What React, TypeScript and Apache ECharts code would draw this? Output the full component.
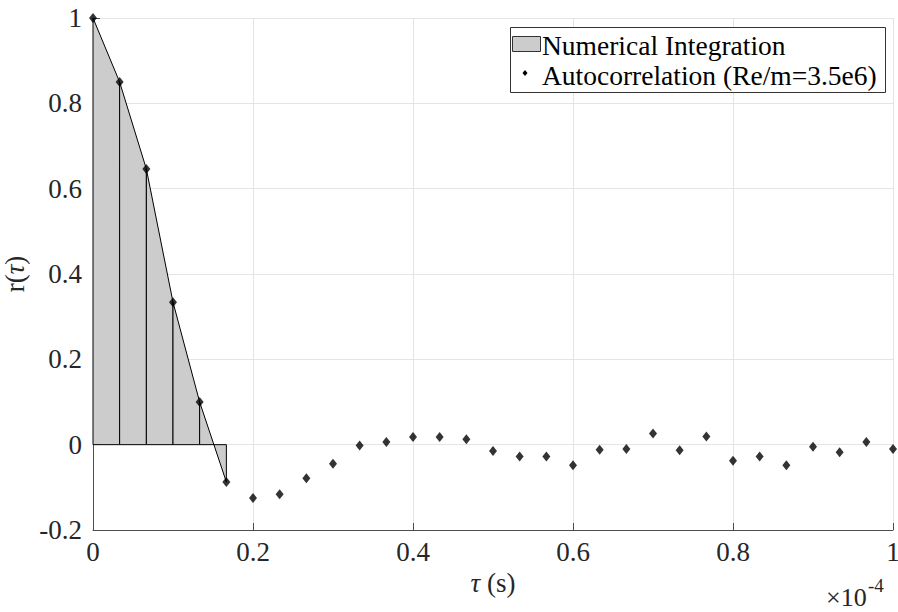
import React, { useEffect, useRef } from "react";
import * as echarts from "echarts";

// tau in units of 1e-4 s
const tau = [
  0, 0.0333, 0.0667, 0.1, 0.1333, 0.1667, 0.2, 0.2333, 0.2667, 0.3, 0.3333,
  0.3667, 0.4, 0.4333, 0.4667, 0.5, 0.5333, 0.5667, 0.6, 0.6333, 0.6667, 0.7,
  0.7333, 0.7667, 0.8, 0.8333, 0.8667, 0.9, 0.9333, 0.9667, 1,
];
const autocorr = [
  1, 0.85, 0.646, 0.334, 0.1, -0.0875, -0.125, -0.116, -0.079, -0.045, -0.002,
  0.006, 0.018, 0.018, 0.0125, -0.015, -0.028, -0.028, -0.048, -0.012, -0.01,
  0.026, -0.013, 0.019, -0.0375, -0.028, -0.048, -0.005, -0.018, 0.006, -0.01,
];
// number of samples used in the trapezoidal integration
const integrationSamples = 6;

const xTicks = [0, 0.2, 0.4, 0.6, 0.8, 1];
const yTicks = [-0.2, 0, 0.2, 0.4, 0.6, 0.8, 1];

const legendLabels = ["Numerical Integration", "Autocorrelation (Re/m=3.5e6)"];

const FONT = "'Liberation Serif', 'Times New Roman', serif";

export default function App() {
  const ref = useRef<HTMLDivElement>(null);

  useEffect(() => {
    if (!ref.current) return;
    const chart = echarts.init(ref.current, null, { renderer: "svg" });

    const trapezoids: number[][] = [];
    for (let i = 0; i < integrationSamples - 1; i++) {
      trapezoids.push([tau[i], autocorr[i], tau[i + 1], autocorr[i + 1]]);
    }
    const points = tau.map((t, i) => [t, autocorr[i]]);

    const axisColor = "#4d4d4d";
    const gridColor = "#e4e4e4";
    const textColor = "#262626";

    chart.setOption({
      animation: false,
      backgroundColor: "#ffffff",
      textStyle: { fontFamily: FONT },
      grid: { left: 93, right: 5, top: 18, bottom: 82, outerBoundsMode: "none", containLabel: false },
      xAxis: {
        type: "value",
        min: xTicks[0],
        max: xTicks[xTicks.length - 1],
        interval: 0.2,
        name: "{i|τ} (s)",
        nameLocation: "middle",
        nameGap: 34,
        nameTextStyle: {
          fontFamily: FONT,
          fontSize: 27,
          color: textColor,
          verticalAlign: "top",
          rich: { i: { fontFamily: FONT, fontSize: 27, fontStyle: "italic", color: textColor } },
        },
        axisLine: { show: true, onZero: false, lineStyle: { color: axisColor, width: 1 } },
        axisTick: { show: true, inside: true, length: 7, lineStyle: { color: axisColor } },
        axisLabel: {
          fontFamily: FONT,
          fontSize: 27,
          color: textColor,
          margin: 8,
          formatter: (v: number) => String(Math.round(v * 10) / 10),
        },
        splitLine: { show: true, lineStyle: { color: gridColor, width: 1 } },
      },
      yAxis: {
        type: "value",
        min: yTicks[0],
        max: yTicks[yTicks.length - 1],
        interval: 0.2,
        name: "r({i|τ})",
        nameLocation: "middle",
        nameGap: 58,
        nameRotate: 90,
        nameTextStyle: {
          fontFamily: FONT,
          fontSize: 27,
          color: textColor,
          rich: { i: { fontFamily: FONT, fontSize: 27, fontStyle: "italic", color: textColor } },
        },
        axisLine: { show: true, onZero: false, lineStyle: { color: axisColor, width: 1 } },
        axisTick: { show: true, inside: true, length: 7, lineStyle: { color: axisColor } },
        axisLabel: {
          fontFamily: FONT,
          fontSize: 27,
          color: textColor,
          margin: 11,
          formatter: (v: number) => String(Math.round(v * 10) / 10),
        },
        splitLine: { show: true, lineStyle: { color: gridColor, width: 1 } },
      },
      series: [
        {
          name: legendLabels[0],
          type: "custom",
          data: trapezoids,
          z: 2,
          renderItem: (params: any, api: any) => {
            const x0 = api.value(0);
            const y0 = api.value(1);
            const x1 = api.value(2);
            const y1 = api.value(3);
            const pts = [
              api.coord([x0, 0]),
              api.coord([x0, y0]),
              api.coord([x1, y1]),
              api.coord([x1, 0]),
            ];
            return {
              type: "polygon",
              shape: { points: pts },
              style: { fill: "#cccccc", stroke: "#000000", lineWidth: 1 },
            };
          },
        },
        {
          name: legendLabels[1],
          type: "scatter",
          data: points,
          symbol: "diamond",
          symbolSize: [8, 10],
          itemStyle: { color: "#000000" },
          z: 5,
        },
      ],
      graphic: [
        {
          type: "rect",
          shape: { x: 510.5, y: 27.5, width: 375, height: 65 },
          style: { fill: "#ffffff", stroke: "#333333", lineWidth: 1 },
          z: 100,
        },
        {
          type: "rect",
          shape: { x: 512.5, y: 36.5, width: 28, height: 15 },
          style: { fill: "#cccccc", stroke: "#333333", lineWidth: 1 },
          z: 101,
        },
        {
          type: "text",
          x: 542,
          y: 45,
          style: {
            text: legendLabels[0],
            font: `27.5px ${FONT}`,
            fill: "#000000",
            verticalAlign: "middle",
          },
          z: 101,
        },
        {
          type: "polygon",
          shape: { points: [[525, 70], [527.5, 73], [525, 76], [522.5, 73]] },
          style: { fill: "#000000" },
          z: 101,
        },
        {
          type: "text",
          x: 542,
          y: 75,
          style: {
            text: legendLabels[1],
            font: `27.5px ${FONT}`,
            fill: "#000000",
            verticalAlign: "middle",
          },
          z: 101,
        },
        {
          type: "text",
          x: 826,
          y: 597,
          style: {
            text: "×10",
            font: `26px ${FONT}`,
            fill: textColor,
            verticalAlign: "middle",
          },
        },
        {
          type: "text",
          x: 868,
          y: 585,
          style: {
            text: "-4",
            font: `19px ${FONT}`,
            fill: textColor,
            verticalAlign: "middle",
          },
        },
      ],
    });

    return () => chart.dispose();
  }, []);

  return (
    <div
      ref={ref}
      style={{ position: "fixed", left: 0, top: 0, width: 898, height: 612 }}
    />
  );
}
